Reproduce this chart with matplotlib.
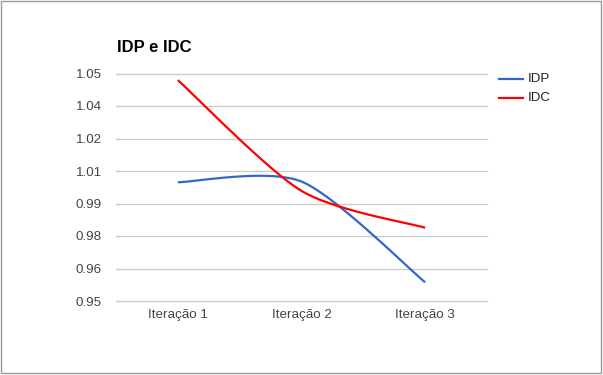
import numpy as np
import matplotlib
matplotlib.use("Agg")
import matplotlib.pyplot as plt
from matplotlib.patches import Rectangle
from matplotlib.lines import Line2D

categories = ["Iteração 1", "Iteração 2", "Iteração 3"]
idp = [1.0022, 1.0025, 0.9582]
idc = [1.0471, 0.9984, 0.9822]
y_min, y_max = 0.95, 1.05
title = "IDP e IDC"
series_names = ["IDP", "IDC"]
colors = ["#3366CC", "#FF0000"]

plt.rcParams['font.family'] = ['Liberation Sans', 'DejaVu Sans']


def smooth(xs, ys, s=0.4, n=60):
    pts = np.column_stack([xs, ys]).astype(float)
    m = len(pts)
    tang = np.zeros_like(pts)
    for i in range(m):
        a = pts[max(i - 1, 0)]
        b = pts[min(i + 1, m - 1)]
        tang[i] = s * (b - a)
    out = []
    for i in range(m - 1):
        p0, p3 = pts[i], pts[i + 1]
        c1 = p0 + tang[i] / 3
        c2 = p3 - tang[i + 1] / 3
        t = np.linspace(0, 1, n)[:, None]
        seg = ((1 - t) ** 3) * p0 + 3 * (1 - t) ** 2 * t * c1 + 3 * (1 - t) * t ** 2 * c2 + t ** 3 * p3
        out.append(seg if i == 0 else seg[1:])
    seg = np.vstack(out)
    return seg[:, 0], seg[:, 1]


W, H = 603, 375
fig = plt.figure(figsize=(W / 100, H / 100), dpi=100)
fig.patch.set_facecolor("white")

left, right, top, bottom = 116, 487, 73.5, 301
ax = fig.add_axes([left / W, 1 - bottom / H, (right - left) / W, (bottom - top) / H])

x = np.arange(len(categories))
for vals, c in zip([idp, idc], colors):
    sx, sy = smooth(x, vals)
    ax.plot(sx, sy, color=c, lw=1.6, solid_capstyle='butt', zorder=3)

ax.set_xlim(-0.5, len(categories) - 0.5)
ax.set_ylim(y_min, y_max)
yt = np.linspace(y_min, y_max, 8)
ax.set_yticks(yt)
ax.set_yticklabels([f"{v:.2f}" for v in yt])
ax.set_xticks(x)
ax.set_xticklabels(categories)
ax.grid(axis='y', color='#cccccc', lw=1)
for gl in ax.get_ygridlines():
    gl.set_clip_on(False)
ax.set_axisbelow(True)
for sp in ax.spines.values():
    sp.set_visible(False)
ax.tick_params(axis='both', length=0, labelsize=9.6, colors='#444444')
ax.tick_params(axis='y', pad=10)
ax.tick_params(axis='x', pad=6)

fig.text(117 / W, 1 - 47 / H, title, fontsize=12, fontweight='bold', ha='left', va='center', color='#000000')

# legend
for i, (name, c) in enumerate(zip(series_names, colors)):
    yy = 1 - (78.7 + i * 19) / H
    fig.add_artist(Line2D([499 / W, 523 / W], [yy, yy], color=c, lw=1.6))
    fig.text(528 / W, yy, name, fontsize=9.6, ha='left', va='center', color='#222222')

fig.add_artist(Rectangle((0.5 / W, 1 - 373 / H), 600.5 / W, 372.5 / H, fill=False, edgecolor='#999999', lw=1))

fig.savefig("out.png", dpi=100, facecolor="white")
